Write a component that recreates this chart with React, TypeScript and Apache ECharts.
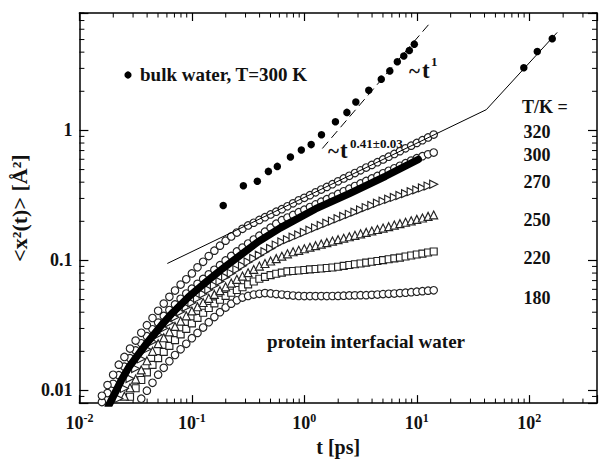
import React, { useEffect, useRef } from "react";
import * as echarts from "echarts";

// time grid of the simulated MSD curves [ps]
const times = [
  0.01585, 0.01778, 0.01995, 0.02239, 0.02512, 0.02818, 0.03162, 0.03548, 0.03981, 0.04467,
  0.05012, 0.05623, 0.0631, 0.07079, 0.07943, 0.08913, 0.1, 0.1122, 0.1259, 0.1413,
  0.1585, 0.1778, 0.1995, 0.2239, 0.2512, 0.2818, 0.3162, 0.3548, 0.3981, 0.4467,
  0.5012, 0.5623, 0.631, 0.7079, 0.7943, 0.8913, 1.0, 1.122, 1.259, 1.413,
  1.585, 1.778, 1.995, 2.239, 2.512, 2.818, 3.162, 3.548, 3.981, 4.467,
  5.012, 5.623, 6.31, 7.079, 7.943, 8.913, 10.0, 11.22, 12.59, 14.13,
];

const msd320 = [
  0.0091, 0.011, 0.0132, 0.0158, 0.0181, 0.021, 0.0242, 0.0278, 0.0318, 0.0361,
  0.041, 0.0466, 0.0525, 0.0587, 0.0652, 0.0716, 0.0794, 0.0885, 0.0977, 0.108,
  0.119, 0.13, 0.142, 0.153, 0.164, 0.175, 0.186, 0.195, 0.205, 0.215,
  0.226, 0.237, 0.248, 0.261, 0.275, 0.29, 0.303, 0.318, 0.334, 0.351,
  0.368, 0.386, 0.406, 0.427, 0.448, 0.47, 0.493, 0.518, 0.543, 0.57,
  0.598, 0.628, 0.659, 0.693, 0.728, 0.764, 0.802, 0.841, 0.883, 0.929,
];

const msd300 = [
  0.00814, 0.00955, 0.01125, 0.01312, 0.01526, 0.01771, 0.02034, 0.02307, 0.02614, 0.02958,
  0.03327, 0.03741, 0.0416, 0.0459, 0.0507, 0.0557, 0.0607, 0.0661, 0.0721, 0.0782,
  0.0848, 0.0919, 0.1, 0.1084, 0.1173, 0.1256, 0.1349, 0.1448, 0.1552, 0.1663,
  0.1786, 0.1918, 0.2041, 0.2137, 0.224, 0.2349, 0.246, 0.2577, 0.27, 0.2831,
  0.2961, 0.3098, 0.325, 0.3404, 0.3565, 0.3733, 0.3908, 0.4091, 0.4276, 0.4471,
  0.468, 0.4891, 0.5117, 0.5346, 0.5598, 0.5861, 0.6122, 0.6339, 0.6546, 0.6761,
];

const msd270 = [
  null, null, null, 0.00869, 0.01038, 0.01236, 0.01474, 0.0175, 0.02078, 0.02373,
  0.02679, 0.03006, 0.03314, 0.03655, 0.0403, 0.04363, 0.04721, 0.05108, 0.05521, 0.05957,
  0.06412, 0.06905, 0.07447, 0.07962, 0.08511, 0.09099, 0.0975, 0.1036, 0.1099, 0.1167,
  0.1239, 0.1313, 0.1387, 0.1446, 0.1508, 0.1572, 0.164, 0.171, 0.1783, 0.1858,
  0.1932, 0.2009, 0.2093, 0.2178, 0.2263, 0.2354, 0.2449, 0.2551, 0.2649, 0.2754,
  0.2858, 0.2958, 0.3055, 0.3162, 0.3266, 0.338, 0.3491, 0.3614, 0.3733, 0.3857,
];

const msd250 = [
  null, null, null, null, 0.00904, 0.01049, 0.01224, 0.0144, 0.01694, 0.02,
  0.02291, 0.02547, 0.02825, 0.03111, 0.0342, 0.0375, 0.04093, 0.04406, 0.04753, 0.05117,
  0.05483, 0.05861, 0.06266, 0.06699, 0.07161, 0.07586, 0.08054, 0.08531, 0.09057, 0.09484,
  0.09908, 0.1033, 0.1079, 0.1125, 0.1167, 0.1197, 0.123, 0.1265, 0.13, 0.1336,
  0.1371, 0.1409, 0.1446, 0.1484, 0.1521, 0.156, 0.1603, 0.1644, 0.1687, 0.173,
  0.1774, 0.182, 0.1871, 0.1919, 0.1968, 0.2018, 0.207, 0.2123, 0.2183, 0.2239,
];

const msd220 = [
  null, null, null, null, null, 0.00895, 0.0104, 0.01205, 0.0138, 0.01574,
  0.01775, 0.01982, 0.02203, 0.02443, 0.02698, 0.02979, 0.03283, 0.03622, 0.03963, 0.04306,
  0.04677, 0.0499, 0.05336, 0.05649, 0.05929, 0.06223, 0.06546, 0.06887, 0.07228, 0.07482,
  0.07709, 0.07907, 0.08072, 0.08241, 0.08299, 0.08375, 0.08452, 0.08531, 0.0859, 0.0867,
  0.0875, 0.08831, 0.08954, 0.09078, 0.09226, 0.09354, 0.09484, 0.09616, 0.09772, 0.09908,
  0.1007, 0.1021, 0.1038, 0.1052, 0.1072, 0.1091, 0.1112, 0.113, 0.1151, 0.1172,
];

const msd180 = [
  null, null, null, null, null, null, null, 0.00865, 0.00997, 0.01146,
  0.01324, 0.01493, 0.01679, 0.01875, 0.02075, 0.02286, 0.02523, 0.02773, 0.03048, 0.0335,
  0.03673, 0.03999, 0.04347, 0.04656, 0.04943, 0.05188, 0.05333, 0.0547, 0.05546, 0.0561,
  0.05572, 0.05521, 0.0547, 0.0542, 0.0537, 0.05333, 0.05321, 0.0532, 0.0532, 0.0532,
  0.0532, 0.0533, 0.0534, 0.0536, 0.0538, 0.0539, 0.0541, 0.0541, 0.0544, 0.0547,
  0.0551, 0.0554, 0.0557, 0.0561, 0.0565, 0.057, 0.0575, 0.0581, 0.0586, 0.059,
];

// densely sampled curve drawn as a solid black band
const bandT = [0.01811, 0.0236, 0.0278, 0.0334, 0.0394, 0.0474, 0.0558, 0.0658, 0.0791, 0.0931, 0.1265, 0.179, 0.2535, 0.39, 0.612, 1.253, 2.564, 5.25, 10.3];
const bandV = [0.00759, 0.012, 0.0153, 0.0189, 0.0229, 0.0278, 0.0331, 0.0388, 0.0454, 0.0522, 0.0656, 0.0839, 0.1054, 0.1396, 0.1782, 0.249, 0.33, 0.444, 0.598];

// bulk water, T = 300 K
const bulkT = [0.19, 0.287, 0.382, 0.479, 0.575, 0.752, 0.94, 1.15, 1.42, 1.89, 2.39, 2.87, 3.74, 4.83, 5.75, 6.71, 7.66, 8.58, 9.5, 89.4, 117.8, 160];
const bulkV = [0.265, 0.376, 0.407, 0.484, 0.529, 0.625, 0.707, 0.778, 0.927, 1.165, 1.376, 1.655, 2.04, 2.48, 2.87, 3.37, 3.74, 4.12, 4.61, 3.03, 4.05, 5.08];

// power-law guides
const fitSubT = [0.0605, 41.5, 177];
const fitSubV = [0.0948, 1.445, 5.67];
const fitLinT = [1.445, 12.9];
const fitLinV = [0.726, 6.6];

const tempLabels = ["320", "300", "270", "250", "220", "180"];
const tempLabelY = [132, 155, 182, 220, 258, 298];

const xMinor: number[] = [];
[0.01, 0.1, 1, 10, 100].forEach((d) => {
  for (let m = 2; m <= 9; m++) if (d * m < 400) xMinor.push(d * m);
});
const yMinor: number[] = [0.009];
[0.01, 0.1, 1].forEach((d) => {
  for (let m = 2; m <= 9; m++) if (d * m < 8.01) yMinor.push(d * m);
});

const SERIF = "Liberation Serif";

const pairs = (xs: number[], ys: (number | null)[]) =>
  xs.map((x, i) => (ys[i] == null ? null : [x, ys[i]])).filter((p) => p !== null);

const markerSeries = (data: (number | null)[], symbol: string, size: number, rotate = 0) => ({
  type: "scatter",
  data: pairs(times, data),
  symbol,
  symbolSize: size,
  symbolRotate: rotate,
  silent: true,
  itemStyle: { color: "#ffffff", borderColor: "#222", borderWidth: 1.15, opacity: 1 },
});

const txt = (x: number, y: number, text: string, size: number, align = "left") => ({
  type: "text",
  x,
  y,
  silent: true,
  style: {
    text,
    fill: "#111",
    fontFamily: SERIF,
    fontSize: size,
    fontWeight: "bold",
    textAlign: align,
    align,
    textVerticalAlign: "middle",
    verticalAlign: "middle",
  },
});

const decadeExp = (v: number) => {
  const l = Math.log10(v);
  const e = Math.round(l);
  return Math.abs(l - e) < 1e-6 ? e : null;
};

export default function App() {
  const ref = useRef<HTMLDivElement>(null);

  useEffect(() => {
    if (!ref.current) return;
    const chart = echarts.init(ref.current, undefined, { renderer: "svg" });

    const axisLine = { show: true, lineStyle: { color: "#000", width: 1.5 } };
    const majorTick = (len: number) => ({ show: true, inside: true, length: len, lineStyle: { color: "#000", width: 1.2 } });

    const minorTickX = {
      type: "custom",
      silent: true,
      clip: false,
      xAxisIndex: 0,
      yAxisIndex: 0,
      data: xMinor.map((v) => [v, 1]),
      renderItem: (params: any, api: any) => {
        const cs = params.coordSys;
        const x = api.coord([api.value(0), 1])[0];
        const b = cs.y + cs.height;
        return {
          type: "group",
          children: [
            { type: "line", shape: { x1: x, y1: b, x2: x, y2: b - 4.5 }, style: { stroke: "#000", lineWidth: 1 } },
            { type: "line", shape: { x1: x, y1: cs.y, x2: x, y2: cs.y + 4.5 }, style: { stroke: "#000", lineWidth: 1 } },
          ],
        };
      },
    };
    const minorTickY = {
      type: "custom",
      silent: true,
      clip: false,
      xAxisIndex: 0,
      yAxisIndex: 0,
      data: yMinor.map((v) => [1, v]),
      renderItem: (params: any, api: any) => {
        const cs = params.coordSys;
        const y = api.coord([1, api.value(1)])[1];
        const r = cs.x + cs.width;
        return {
          type: "group",
          children: [
            { type: "line", shape: { x1: cs.x, y1: y, x2: cs.x + 5, y2: y }, style: { stroke: "#000", lineWidth: 1 } },
            { type: "line", shape: { x1: r, y1: y, x2: r - 5, y2: y }, style: { stroke: "#000", lineWidth: 1 } },
          ],
        };
      },
    };

    const option = {
      animation: false,
      backgroundColor: "#ffffff",
      textStyle: { fontFamily: SERIF },
      grid: { left: 79, right: 2, top: 13, bottom: 56, containLabel: false },
      xAxis: [
        {
          type: "log",
          logBase: 10,
          min: 0.01,
          max: 400,
          position: "bottom",
          axisLine,
          axisTick: majorTick(8),
          splitLine: { show: false },
          name: "t [ps]",
          nameLocation: "middle",
          nameGap: 30,
          nameTextStyle: { fontFamily: SERIF, fontWeight: "bold", fontSize: 20, color: "#111" },
          axisLabel: {
            margin: 9,
            color: "#111",
            formatter: (v: number) => {
              const e = decadeExp(v);
              return e === null ? "" : `{b|10}{s|${e}}`;
            },
            rich: {
              b: { fontFamily: SERIF, fontWeight: "bold", fontSize: 18, lineHeight: 22, color: "#111" },
              s: { fontFamily: SERIF, fontWeight: "bold", fontSize: 12, lineHeight: 13, verticalAlign: "top", color: "#111" },
            },
          },
        },
        {
          type: "log",
          logBase: 10,
          min: 0.01,
          max: 400,
          position: "top",
          axisLine,
          axisTick: majorTick(8),
          axisLabel: { show: false },
          splitLine: { show: false },
        },
      ],
      yAxis: [
        {
          type: "log",
          logBase: 10,
          min: 0.008,
          max: 8,
          position: "left",
          axisLine,
          axisTick: majorTick(9),
          splitLine: { show: false },
          name: "<x\u00B2(t)> [\u00C5\u00B2]",
          nameLocation: "middle",
          nameGap: 45,
          nameRotate: 90,
          nameTextStyle: { fontFamily: SERIF, fontWeight: "bold", fontSize: 22, color: "#111" },
          axisLabel: {
            margin: 7,
            color: "#111",
            fontFamily: SERIF,
            fontWeight: "bold",
            fontSize: 18,
            formatter: (v: number) => {
              const e = decadeExp(v);
              if (e === null) return "";
              return e === 0 ? "1" : e === -1 ? "0.1" : e === -2 ? "0.01" : "";
            },
          },
        },
        {
          type: "log",
          logBase: 10,
          min: 0.008,
          max: 8,
          position: "right",
          axisLine,
          axisTick: majorTick(9),
          axisLabel: { show: false },
          splitLine: { show: false },
        },
      ],
      series: [
        minorTickX,
        minorTickY,
        markerSeries(msd180, "circle", 7.5),
        markerSeries(msd220, "rect", 7),
        markerSeries(msd250, "triangle", 8),
        markerSeries(msd270, "triangle", 8, -90),
        markerSeries(msd300, "circle", 7.5),
        {
          type: "line",
          data: pairs(bandT, bandV),
          symbol: "none",
          silent: true,
          lineStyle: { color: "#000", width: 7.5, cap: "round", join: "round" },
        },
        {
          type: "line",
          data: pairs(fitSubT, fitSubV),
          symbol: "none",
          silent: true,
          lineStyle: { color: "#000", width: 1 },
        },
        {
          type: "line",
          data: pairs(fitLinT, fitLinV),
          symbol: "none",
          silent: true,
          lineStyle: { color: "#000", width: 1, type: [9, 5] },
        },
        markerSeries(msd320, "circle", 7.5),
        {
          type: "scatter",
          data: pairs(bulkT, bulkV),
          symbol: "circle",
          symbolSize: 7.5,
          silent: true,
          itemStyle: { color: "#000", opacity: 1 },
        },
      ],
      graphic: [
        { type: "circle", shape: { cx: 128, cy: 75, r: 3.6 }, style: { fill: "#000" }, silent: true },
        txt(140, 74, "bulk water, T=300 K", 19),
        txt(409, 71, "~", 21),
        txt(422, 70, "t", 23),
        txt(431, 61, "1", 13),
        txt(328, 151, "~", 21),
        txt(340, 150, "t", 23),
        txt(350, 143, "0.41\u00B10.03", 13),
        txt(522, 107, "T/K =", 18),
        ...tempLabels.map((l, i) => txt(537, tempLabelY[i], l, 18, "center")),
        txt(267, 341, "protein interfacial water", 19),
      ],
    };

    chart.setOption(option as any);
    return () => chart.dispose();
  }, []);

  return (
    <div
      ref={ref}
      style={{ position: "fixed", left: 0, top: 0, width: 600, height: 462, background: "#fff" }}
    />
  );
}
